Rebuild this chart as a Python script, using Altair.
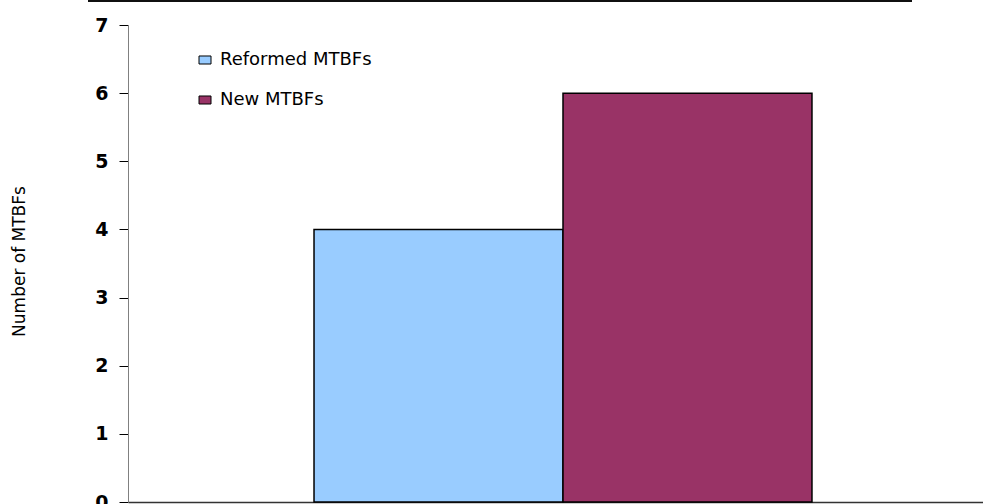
import altair as alt
import pandas as pd

series = ["Reformed MTBFs", "New MTBFs"]
values = [4, 6]
colors = ["#99CCFF", "#993366"]
y_ticks = [0, 1, 2, 3, 4, 5, 6, 7]

df = pd.DataFrame({"series": series, "value": values})

bars = alt.Chart(df).mark_bar(stroke="black", strokeWidth=1.5).encode(
    x=alt.X("series:N", sort=series,
            scale=alt.Scale(paddingInner=0, paddingOuter=0.717, align=0.521),
            axis=alt.Axis(labels=False, ticks=False, title=None,
                          domainColor="#333333", domainWidth=1.5)),
    y=alt.Y("value:Q",
            scale=alt.Scale(domain=[0, 7], nice=False, zero=True),
            axis=alt.Axis(values=y_ticks, grid=False, tickSize=9, tickColor="black",
                          domainColor="#808080", labelPadding=11,
                          labelFont="DejaVu Sans", labelFontSize=19,
                          labelFontWeight="bold", labelColor="black",
                          title="Number of MTBFs", titleFont="DejaVu Sans",
                          titleFontSize=17, titleFontWeight="normal",
                          titleColor="black", titleAngle=-90,
                          titleX=-109, titleY=236, titleAlign="center",
                          titleBaseline="middle")),
    color=alt.Color("series:N", sort=series,
                    scale=alt.Scale(domain=series, range=colors),
                    legend=alt.Legend(title=None, orient="none", legendX=68, legendY=26,
                                      symbolType="M-1,-0.667H1V0.667H-1Z", symbolSize=144,
                                      symbolStrokeColor="black", symbolStrokeWidth=1,
                                      symbolOpacity=1,
                                      labelFont="DejaVu Sans", labelFontSize=18,
                                      labelColor="black", labelOffset=6,
                                      rowPadding=22)),
)

top_line = alt.Chart(df).mark_rule(color="black", strokeWidth=1.5).encode(
    x=alt.value(-40), x2=alt.value(784), y=alt.value(-24)
)

chart = alt.layer(bars, top_line).properties(
    width=855, height=477,
    autosize=alt.AutoSizeParams(type="none"),
    padding={"left": 128, "top": 25, "right": 0, "bottom": 2},
).configure_view(stroke=None)

chart.save("out.html", embed_options={"renderer": "svg", "actions": False})
